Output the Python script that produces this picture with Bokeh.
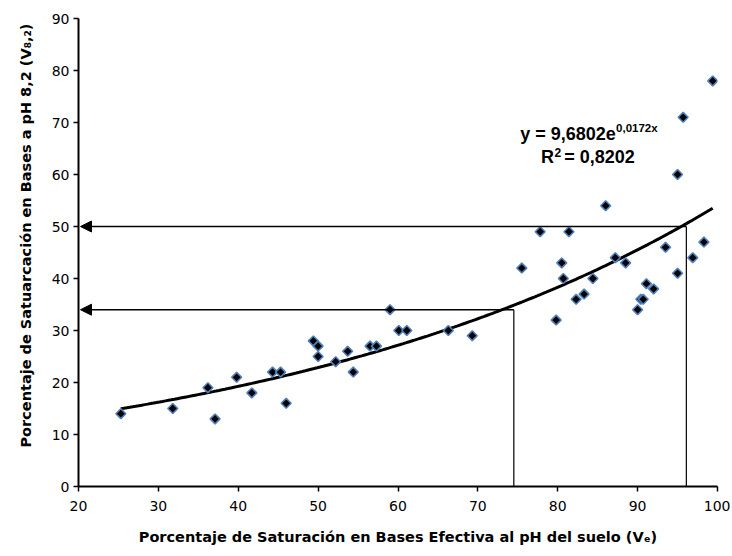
import numpy as np
from bokeh.plotting import figure
from bokeh.models import Range1d, Label, Arrow, NormalHead, ColumnDataSource, Title
from bokeh.embed import file_html
from bokeh.resources import INLINE

# ---- data ----
ve_x = [25.3, 31.8, 36.2, 37.1, 39.8, 41.7, 44.3, 45.3, 46.0, 49.4, 50.0, 50.0,
        52.2, 53.7, 54.4, 56.5, 57.3, 59.0, 60.1, 61.1, 66.3, 69.3, 75.5, 77.8,
        79.8, 80.5, 80.7, 81.4, 82.3, 83.3, 84.4, 86.0, 87.2, 88.5, 90.0, 90.4,
        90.7, 91.1, 92.0, 93.5, 95.0, 95.0, 95.7, 96.9, 98.3, 99.4]
v82_y = [14, 15, 19, 13, 21, 18, 22, 22, 16, 28, 27, 25,
         24, 26, 22, 27, 27, 34, 30, 30, 30, 29, 42, 49,
         32, 43, 40, 49, 36, 37, 40, 54, 44, 43, 34, 36,
         36, 39, 38, 46, 41, 60, 71, 44, 47, 78]

guide_x = [74.5, 96.1]     # Ve values read at the guide lines
guide_y = [34, 50]         # V8,2 values pointed by the arrows

fit_a = 9.6802
fit_b = 0.0172

x_ticks = [20, 30, 40, 50, 60, 70, 80, 90, 100]
y_ticks = [0, 10, 20, 30, 40, 50, 60, 70, 80, 90]

x_title = "Porcentaje de Saturación en Bases Efectiva al pH del suelo (Vₑ)"
y_title = "Porcentaje de Satuarcación en Bases a pH 8,2 (V₈,₂)"

TICK_FONT = "DejaVu Sans"
TITLE_FONT = "DejaVu Sans"
EQ_FONT = "Liberation Sans"

p = figure(width=730, height=554, output_backend="svg", toolbar_location=None,
           x_range=Range1d(x_ticks[0], x_ticks[-1]), y_range=Range1d(y_ticks[0], y_ticks[-1]),
           min_border_left=77, min_border_right=13, min_border_top=18, min_border_bottom=68)
p.outline_line_color = None
p.grid.visible = False
p.background_fill_color = "white"
p.border_fill_color = "white"

for ax in (p.xaxis[0], p.yaxis[0]):
    ax.axis_line_color = "black"
    ax.axis_line_width = 2
    ax.major_tick_line_color = "black"
    ax.major_tick_line_width = 1.5
    ax.major_tick_in = 0
    ax.major_tick_out = 5
    ax.minor_tick_line_color = None
    ax.major_label_text_font = TICK_FONT
    ax.major_label_text_font_size = "14px"
    ax.major_label_text_color = "black"
    ax.axis_label_text_font = TITLE_FONT
    ax.axis_label_text_font_size = "14.5px"
    ax.axis_label_text_font_style = "bold"
    ax.axis_label_text_color = "black"

p.xaxis.ticker = x_ticks
p.yaxis.ticker = y_ticks
p.xaxis.major_label_standoff = 9
p.yaxis.major_label_standoff = 4
p.xaxis.axis_label = x_title
p.xaxis.axis_label_standoff = 15

# y-axis title as a side title (placed slightly above the frame centre)
p.add_layout(Title(text=y_title, align="right", offset=5, vertical_align="bottom",
                   standoff=30, text_font=TITLE_FONT, text_font_size="14.5px",
                   text_font_style="bold", text_color="black"), "left")

# guide lines: vertical from axis to curve, then arrow to the y axis
p.segment(x0=guide_x, y0=[y_ticks[0]] * 2, x1=guide_x, y1=guide_y,
          line_color="black", line_width=1.2)
for gx, gy in zip(guide_x, guide_y):
    p.add_layout(Arrow(end=NormalHead(size=11, fill_color="black", line_color="black"),
                       x_start=gx, y_start=gy, x_end=x_ticks[0] + 0.25, y_end=gy,
                       line_color="black", line_width=1.5))

# trend line (exponential fit shown on the chart)
tx = np.linspace(min(ve_x), max(ve_x), 200)
ty = fit_a * np.exp(fit_b * tx)
p.line(tx, ty, line_color="black", line_width=3)

# scatter points
src = ColumnDataSource(dict(x=ve_x, y=v82_y))
p.scatter("x", "y", source=src, marker="square", angle=np.pi / 4, size=7,
          fill_color="black", line_color="#4F81BD", line_width=1.6)

# equation text
def lab(x, y, t, size):
    p.add_layout(Label(x=x, y=y, text=t, text_font=EQ_FONT, text_font_size=size,
                       text_font_style="bold", text_color="black",
                       text_baseline="alphabetic", text_align="left"))

lab(75.3, 67.85, "y = 9,6802e", "18px")
lab(87.3, 68.95, "0,0172x", "11.5px")
lab(77.9, 63.4, "R", "18px")
lab(79.6, 64.2, "2", "12px")
lab(80.8, 63.4, "= 0,8202", "18px")

open("out.html", "w").write(file_html(p, INLINE))
